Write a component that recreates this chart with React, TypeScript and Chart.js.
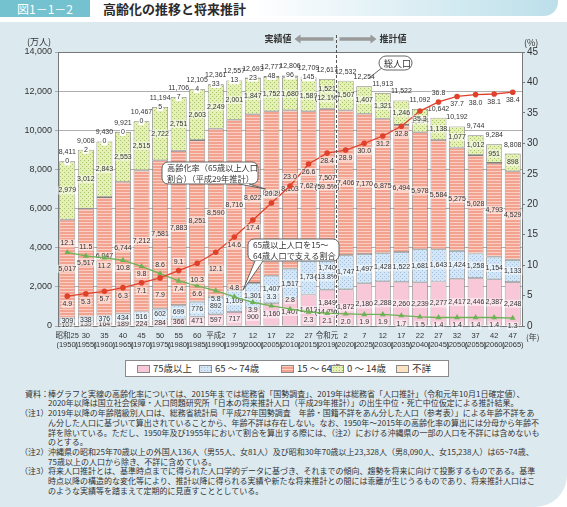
import React, { useEffect, useRef } from "react";
import { Chart, registerables } from "chart.js";
Chart.register(...registerables);

const eraLabels = ["昭和25","30","35","40","45","50","55","60","平成2","7","12","17","22","27","令和元","2","7","12","17","22","27","32","37","42","47"];
const yearLabels = ["1950","1955","1960","1965","1970","1975","1980","1985","1990","1995","2000","2005","2010","2015","2019","2020","2025","2030","2035","2040","2045","2050","2055","2060","2065"];
const totalPopulation = [8411,9008,9430,9921,10467,11194,11706,12105,12361,12557,12693,12777,12806,12709,12617,12532,12254,11913,11522,11092,10642,10192,9744,9284,8808];
const age75plus = [107,139,164,189,224,284,366,471,597,717,900,1160,1407,1613,1849,1872,2180,2288,2260,2239,2277,2417,2446,2387,2248];
const age65to74 = [309,338,376,434,516,602,699,776,892,1109,1301,1407,1517,1734,1740,1747,1497,1428,1522,1681,1643,1424,1258,1154,1133];
const age15to64 = [5017,5517,6047,6744,7212,7581,7883,8251,8590,8716,8622,8409,8103,7629,7507,7406,7170,6875,6494,5978,5584,5275,5028,4793,4529];
const age0to14 = [2979,3012,2843,2553,2515,2722,2751,2603,2249,2001,1847,1752,1680,1589,1521,1507,1407,1321,1246,1194,1138,1077,1012,951,898];
const ageUnknown: (number | null)[] = [0,2,0,0,0,5,7,4,33,13,23,48,96,145,null,null,null,null,null,null,null,null,null,null,null];
const shares2019 = ["(14.7%)","(13.8%)","(59.5%)","(12.1%)"];
const agingRate = [4.9,5.3,5.7,6.3,7.1,7.9,9.1,10.3,12.1,14.6,17.4,20.2,23.0,26.6,28.4,28.9,30.0,31.2,32.8,35.3,36.8,37.7,38.0,38.1,38.4];
const supportRatio = [12.1,11.5,11.2,10.8,9.8,8.6,7.4,6.6,5.8,4.8,3.9,3.3,2.8,2.3,2.1,2.0,1.9,1.9,1.7,1.5,1.4,1.4,1.4,1.4,1.3];
const seriesNames = ["75歳以上","65～74歳","15～64歳","0～14歳","不詳"];
const legendLabels = ["75歳以上","65 ～ 74歳","15 ～ 64歳","0 ～ 14歳","不詳"];
const leftAxisMax = 14000;
const leftAxisStep = 2000;
const rightAxisMax = 45;
const rightAxisStep = 5;
const lastActualIndex = 14;

// label placement codes (a: above, b: below, B: further below)
const agingLabelPos = "bbbbbBaBBbbaabbbbbbbabbbb";
const supportLabelPos = "aabbbabbbabaabbbbbbbbbbbb";

const noteLines: [string, string][] = [
  ["資料：", "棒グラフと実線の高齢化率については、2015年までは総務省「国勢調査」、2019年は総務省「人口推計」（令和元年10月1日確定値）、"],
  ["", "2020年以降は国立社会保障・人口問題研究所「日本の将来推計人口（平成29年推計）」の出生中位・死亡中位仮定による推計結果。"],
  ["（注1）", "2019年以降の年齢階級別人口は、総務省統計局「平成27年国勢調査　年齢・国籍不詳をあん分した人口（参考表）」による年齢不詳をあ"],
  ["", "ん分した人口に基づいて算出されていることから、年齢不詳は存在しない。なお、1950年～2015年の高齢化率の算出には分母から年齢不"],
  ["", "詳を除いている。ただし、1950年及び1955年において割合を算出する際には、（注2）における沖縄県の一部の人口を不詳には含めないも"],
  ["", "のとする。"],
  ["（注2）", "沖縄県の昭和25年70歳以上の外国人136人（男55人、女81人）及び昭和30年70歳以上23,328人（男8,090人、女15,238人）は65~74歳、"],
  ["", "75歳以上の人口から除き、不詳に含めている。"],
  ["（注3）", "将来人口推計とは、基準時点までに得られた人口学的データに基づき、それまでの傾向、趨勢を将来に向けて投影するものである。基準"],
  ["", "時点以降の構造的な変化等により、推計以降に得られる実績や新たな将来推計との間には乖離が生じうるものであり、将来推計人口はこ"],
  ["", "のような実績等を踏まえて定期的に見直すこととしている。"],
];

const LATIN = "'Liberation Sans', Arial, 'Noto Sans CJK JP', sans-serif";
const JP = "'Noto Sans CJK JP', 'Noto Sans', sans-serif";
const TEXT = "#333";

const COLORS = {
  pink: "#f8c8d8",
  blueBase: "#d4e6f5", blueDot: "#9fc0de",
  salmonBase: "#f3a28f", salmonLine: "#f9cfc4",
  greenBase: "#e6efb4", greenDot: "#a3c46a",
  unknown: "#fde2c2",
  red: "#e0412b",
  green: "#6db254",
  border: "#808080",
};

function dotPattern(base: string, dot: string): CanvasPattern | string {
  const c = document.createElement("canvas");
  c.width = 4; c.height = 4;
  const x = c.getContext("2d");
  if (!x) return base;
  x.fillStyle = base; x.fillRect(0, 0, 4, 4);
  x.fillStyle = dot; x.fillRect(0, 0, 1, 1); x.fillRect(2, 2, 1, 1);
  return x.createPattern(c, "repeat") || base;
}
function stripePattern(base: string, line: string): CanvasPattern | string {
  const c = document.createElement("canvas");
  c.width = 4; c.height = 3;
  const x = c.getContext("2d");
  if (!x) return base;
  x.fillStyle = base; x.fillRect(0, 0, 4, 3);
  x.fillStyle = line; x.fillRect(0, 0, 4, 1);
  return x.createPattern(c, "repeat") || base;
}

const fmt = (v: number) => v.toLocaleString("en-US");

function label(ctx: CanvasRenderingContext2D, text: string, x: number, y: number, bg?: string) {
  const w = ctx.measureText(text).width;
  if (bg) { ctx.fillStyle = bg; ctx.fillRect(x - w / 2 - 1, y - 4, w + 2, 8); }
  ctx.fillStyle = TEXT;
  ctx.fillText(text, x, y);
}

function roundRect(ctx: CanvasRenderingContext2D, x: number, y: number, w: number, h: number, r: number) {
  ctx.beginPath();
  ctx.moveTo(x + r, y);
  ctx.lineTo(x + w - r, y); ctx.arcTo(x + w, y, x + w, y + r, r);
  ctx.lineTo(x + w, y + h - r); ctx.arcTo(x + w, y + h, x + w - r, y + h, r);
  ctx.lineTo(x + r, y + h); ctx.arcTo(x, y + h, x, y + h - r, r);
  ctx.lineTo(x, y + r); ctx.arcTo(x, y, x + r, y, r);
  ctx.closePath();
}

function callout(ctx: CanvasRenderingContext2D, x: number, y: number, w: number, h: number, r: number,
  lines: string[], size: number, tail?: [number, number][]) {
  ctx.save();
  ctx.fillStyle = "#fff"; ctx.strokeStyle = "#555"; ctx.lineWidth = 0.9;
  roundRect(ctx, x, y, w, h, r); ctx.fill(); ctx.stroke();
  if (tail) {
    ctx.beginPath(); ctx.moveTo(tail[0][0], tail[0][1]); ctx.lineTo(tail[1][0], tail[1][1]); ctx.lineTo(tail[2][0], tail[2][1]); ctx.closePath();
    ctx.fill();
    ctx.beginPath(); ctx.moveTo(tail[0][0], tail[0][1]); ctx.lineTo(tail[1][0], tail[1][1]); ctx.lineTo(tail[2][0], tail[2][1]);
    ctx.stroke();
  }
  ctx.fillStyle = TEXT;
  ctx.font = `${size}px ${JP}`;
  ctx.textAlign = "left"; ctx.textBaseline = "middle";
  const lh = h / lines.length;
  lines.forEach((t, i) => ctx.fillText(t, x + 5, y + lh * (i + 0.5) + 0.5));
  ctx.restore();
}

function blockArrow(ctx: CanvasRenderingContext2D, x0: number, x1: number, y: number) {
  const dir = Math.sign(x1 - x0);
  const head = 6;
  ctx.beginPath();
  ctx.moveTo(x0, y - 1.7);
  ctx.lineTo(x1 - dir * head, y - 1.7);
  ctx.lineTo(x1 - dir * head, y - 4.5);
  ctx.lineTo(x1, y);
  ctx.lineTo(x1 - dir * head, y + 4.5);
  ctx.lineTo(x1 - dir * head, y + 1.7);
  ctx.lineTo(x0, y + 1.7);
  ctx.closePath();
  ctx.fill();
}

const overlayPlugin = {
  id: "overlay",
  beforeDraw(chart: any) {
    const { ctx, chartArea: a } = chart;
    ctx.save();
    ctx.fillStyle = "#fff";
    ctx.fillRect(a.left, a.top, a.right - a.left, a.bottom - a.top);
    ctx.restore();
  },
  afterDatasetDraw(chart: any, args: any) {
    if (args.index !== 0) return;
    const ctx: CanvasRenderingContext2D = chart.ctx;
    ctx.save();
    ctx.font = `7px ${LATIN}`;
    ctx.textAlign = "center"; ctx.textBaseline = "middle";
    const segs = [age75plus, age65to74, age15to64, age0to14];
    segs.forEach((vals, d) => {
      const meta = chart.getDatasetMeta(d);
      vals.forEach((v, i) => {
        const el = meta.data[i];
        const cy = (el.y + el.base) / 2;
        if (i === lastActualIndex) {
          label(ctx, fmt(v), el.x, cy - 4.5, "rgba(255,255,255,0.5)");
          label(ctx, shares2019[d], el.x, cy + 4.5, "rgba(255,255,255,0.5)");
        } else {
          label(ctx, fmt(v), el.x, cy, "rgba(255,255,255,0.5)");
        }
      });
    });
    const um = chart.getDatasetMeta(4);
    ageUnknown.forEach((v, i) => {
      if (v === null) return;
      const el = um.data[i];
      label(ctx, String(v), el.x, el.y, "#fff");
    });
    const ys = chart.scales.y;
    const bm = chart.getDatasetMeta(0);
    totalPopulation.forEach((v, i) => {
      label(ctx, fmt(v), bm.data[i].x, ys.getPixelForValue(v) - 9);
    });
    ctx.restore();
  },
  afterDraw(chart: any) {
    const ctx: CanvasRenderingContext2D = chart.ctx;
    const a = chart.chartArea;
    ctx.save();
    // plot frame top
    ctx.strokeStyle = "#777"; ctx.lineWidth = 1;
    ctx.beginPath(); ctx.moveTo(a.left, a.top + 0.5); ctx.lineTo(a.right, a.top + 0.5); ctx.stroke();

    // line labels
    ctx.font = `7px ${LATIN}`;
    ctx.textAlign = "center"; ctx.textBaseline = "middle";
    const off = (c: string) => (c === "a" ? -9 : c === "B" ? 17 : 8);
    const rm = chart.getDatasetMeta(5);
    agingRate.forEach((v, i) => {
      const el = rm.data[i];
      label(ctx, v.toFixed(1), el.x, el.y + off(agingLabelPos[i]), "rgba(255,255,255,0.5)");
    });
    const gm = chart.getDatasetMeta(6);
    supportRatio.forEach((v, i) => {
      const el = gm.data[i];
      label(ctx, v.toFixed(1), el.x, el.y + off(supportLabelPos[i]), "rgba(255,255,255,0.5)");
    });

    // dashed divider between actual and projection
    const bm = chart.getDatasetMeta(0);
    const dx = Math.round((bm.data[lastActualIndex].x + bm.data[lastActualIndex + 1].x) / 2) + 0.5;
    ctx.strokeStyle = "#555"; ctx.lineWidth = 1; ctx.setLineDash([3, 2]);
    ctx.beginPath(); ctx.moveTo(dx, 35); ctx.lineTo(dx, a.bottom); ctx.stroke();
    ctx.setLineDash([]);

    // 実績値 / 推計値 arrows
    ctx.fillStyle = "#9a9a9a";
    blockArrow(ctx, dx - 3, dx - 42, 39);
    blockArrow(ctx, dx + 3, dx + 40, 39);
    ctx.fillStyle = "#333";
    ctx.font = `bold 9px ${JP}`;
    ctx.textAlign = "right"; ctx.fillText("実績値", dx - 45, 39);
    ctx.textAlign = "left"; ctx.fillText("推計値", dx + 43, 39);

    // axis unit labels
    ctx.font = `9px ${JP}`;
    ctx.textAlign = "left";
    ctx.fillText("(万人)", 27, 42);
    ctx.fillText("(%)", 524, 43);
    ctx.font = `8px ${JP}`;
    ctx.fillText("(年)", 526, 337);

    // callouts
    ctx.strokeStyle = "#555"; ctx.lineWidth = 0.9;
    ctx.beginPath(); ctx.moveTo(383, 67); ctx.lineTo(369, 78); ctx.stroke();
    callout(ctx, 379, 56, 33, 14, 7, ["総人口"], 9);
    const redTip = rm.data[11];
    callout(ctx, 162, 162, 96, 22, 6, ["高齢化率（65歳以上人口", "割合）（平成29年推計）"], 8.2,
      [[239, 184], [redTip.x - 6, redTip.y - 14], [249, 184]]);
    const greenTip = gm.data[10];
    callout(ctx, 248, 239, 91, 22, 6, ["65歳以上人口を15～", "64歳人口で支える割合"], 8.2,
      [[255, 261], [greenTip.x - 10, greenTip.y - 12], [263, 261]]);
    ctx.restore();
  },
};

export default function App() {
  const ref = useRef<HTMLCanvasElement>(null);
  useEffect(() => {
    const canvas = ref.current;
    if (!canvas) return;
    const blue = dotPattern(COLORS.blueBase, COLORS.blueDot);
    const salmon = stripePattern(COLORS.salmonBase, COLORS.salmonLine);
    const green = dotPattern(COLORS.greenBase, COLORS.greenDot);
    const barCommon = {
      type: "bar" as const,
      borderColor: COLORS.border,
      borderWidth: 0.8,
      borderSkipped: false,
      barPercentage: 0.86,
      categoryPercentage: 1,
      order: 2,
      yAxisID: "y",
    };
    const chart = new Chart(canvas, {
      type: "bar",
      data: {
        labels: yearLabels,
        datasets: [
          { ...barCommon, label: seriesNames[0], data: age75plus, backgroundColor: COLORS.pink },
          { ...barCommon, label: seriesNames[1], data: age65to74, backgroundColor: blue as any },
          { ...barCommon, label: seriesNames[2], data: age15to64, backgroundColor: salmon as any },
          { ...barCommon, label: seriesNames[3], data: age0to14, backgroundColor: green as any },
          { ...barCommon, label: seriesNames[4], data: ageUnknown, backgroundColor: COLORS.unknown },
          {
            type: "line", label: "高齢化率", data: agingRate, yAxisID: "y2", order: 1,
            borderColor: COLORS.red, borderWidth: 1.3, pointRadius: 2.8, pointBorderWidth: 0,
            pointBackgroundColor: COLORS.red, tension: 0,
          } as any,
          {
            type: "line", label: "支える割合", data: supportRatio, yAxisID: "y2", order: 1,
            borderColor: COLORS.green, borderWidth: 1.3, pointStyle: "triangle", pointRadius: 3.4, pointBorderWidth: 0,
            pointBackgroundColor: COLORS.green, tension: 0,
          } as any,
        ],
      },
      options: {
        animation: false,
        responsive: false,
        maintainAspectRatio: false,
        layout: { padding: { top: 52, left: 0, right: 0, bottom: 0 } },
        plugins: { legend: { display: false }, tooltip: { enabled: false } },
        scales: {
          x: {
            stacked: true,
            offset: true,
            grid: { display: false, drawTicks: false, tickLength: 0 },
            border: { color: "#777", width: 1 },
            ticks: {
              autoSkip: false, maxRotation: 0, minRotation: 0, padding: 5,
              color: TEXT,
              font: { family: LATIN, size: 7.5, lineHeight: 1.25 },
              callback: (_v: any, i: number) => [eraLabels[i], `(${yearLabels[i]})`],
            },
            afterFit: (s: any) => { s.height = 34; },
          },
          y: {
            stacked: true,
            min: 0, max: leftAxisMax,
            grid: { color: "#9a9a9a", lineWidth: 0.8, tickLength: 3 },
            border: { color: "#777", width: 1 },
            ticks: {
              stepSize: leftAxisStep, padding: 3, color: TEXT,
              font: { family: LATIN, size: 9 },
              callback: (v: any) => Number(v).toLocaleString("en-US"),
            },
            afterFit: (s: any) => { s.width = 58; },
          },
          y2: {
            position: "right",
            min: 0, max: rightAxisMax,
            grid: { drawOnChartArea: false, color: "#777", tickLength: 3 },
            border: { color: "#777", width: 1 },
            ticks: {
              stepSize: rightAxisStep, padding: 2, color: TEXT,
              font: { family: LATIN, size: 10 },
            },
            afterFit: (s: any) => { s.width = 45; },
          },
        },
      },
      plugins: [overlayPlugin as any],
    });
    return () => chart.destroy();
  }, []);

  const swatchBg = [
    COLORS.pink,
    `radial-gradient(circle, ${COLORS.blueDot} 0.7px, transparent 0.9px) 0 0 / 3px 3px, ${COLORS.blueBase}`,
    `repeating-linear-gradient(to bottom, ${COLORS.salmonLine} 0px, ${COLORS.salmonLine} 1px, ${COLORS.salmonBase} 1px, ${COLORS.salmonBase} 3px)`,
    `radial-gradient(circle, ${COLORS.greenDot} 0.7px, transparent 0.9px) 0 0 / 3px 3px, ${COLORS.greenBase}`,
    COLORS.unknown,
  ];
  const swatchLeft = [11, 73, 155, 205, 270];

  return (
    <div style={{ position: "absolute", left: 0, top: 0, width: 567, height: 507, overflow: "hidden", background: "#fff", fontFamily: JP, color: TEXT }}>
      <div style={{ position: "absolute", left: 0, top: 0, width: 558, height: 16, background: "linear-gradient(to right, #ffffff 45%, #bcdfea 100%)", borderBottomRightRadius: 14 }} />
      <div style={{ position: "absolute", left: 0, top: 0, width: 90, height: 17, background: "#74c2cf", color: "#fff", fontSize: 12, lineHeight: "17px", textAlign: "center" }}>図1－1－2</div>
      <div style={{ position: "absolute", left: 103, top: 0, height: 17, fontSize: 13, lineHeight: "17px", fontWeight: 700, color: "#2b2b2b", whiteSpace: "nowrap" }}>高齢化の推移と将来推計</div>
      <div style={{ position: "absolute", left: 0, top: 22, width: 567, height: 485, background: "#dce9ef", borderBottomRightRadius: 32 }} />
      <canvas ref={ref} width={567} height={360} style={{ position: "absolute", left: 0, top: 0, width: 567, height: 360 }} />
      <div style={{ position: "absolute", left: 125, top: 360, width: 324, height: 17, background: "#fff", border: "1px solid #8a8a8a", boxSizing: "border-box" }}>
        {legendLabels.map((t, i) => (
          <div key={t} style={{ position: "absolute", left: swatchLeft[i], top: 0, height: 15, display: "flex", alignItems: "center", whiteSpace: "nowrap" }}>
            <span style={{ display: "inline-block", width: 13, height: 8, background: swatchBg[i], border: "1px solid #8a8a8a", boxSizing: "border-box", marginRight: 3 }} />
            <span style={{ fontSize: 9.5, lineHeight: "15px" }}>{t}</span>
          </div>
        ))}
      </div>
      {noteLines.map(([lab, txt], k) => (
        <React.Fragment key={k}>
          {lab && (
            <div style={{ position: "absolute", left: lab === "資料：" ? 25 : 20, top: 388.7 + k * 9.7, fontSize: 8, lineHeight: "9.7px", whiteSpace: "nowrap" }}>{lab}</div>
          )}
          <div style={{ position: "absolute", left: 48, top: 388.7 + k * 9.7, fontSize: 8, lineHeight: "9.7px", whiteSpace: "nowrap" }}>{txt}</div>
        </React.Fragment>
      ))}
    </div>
  );
}
